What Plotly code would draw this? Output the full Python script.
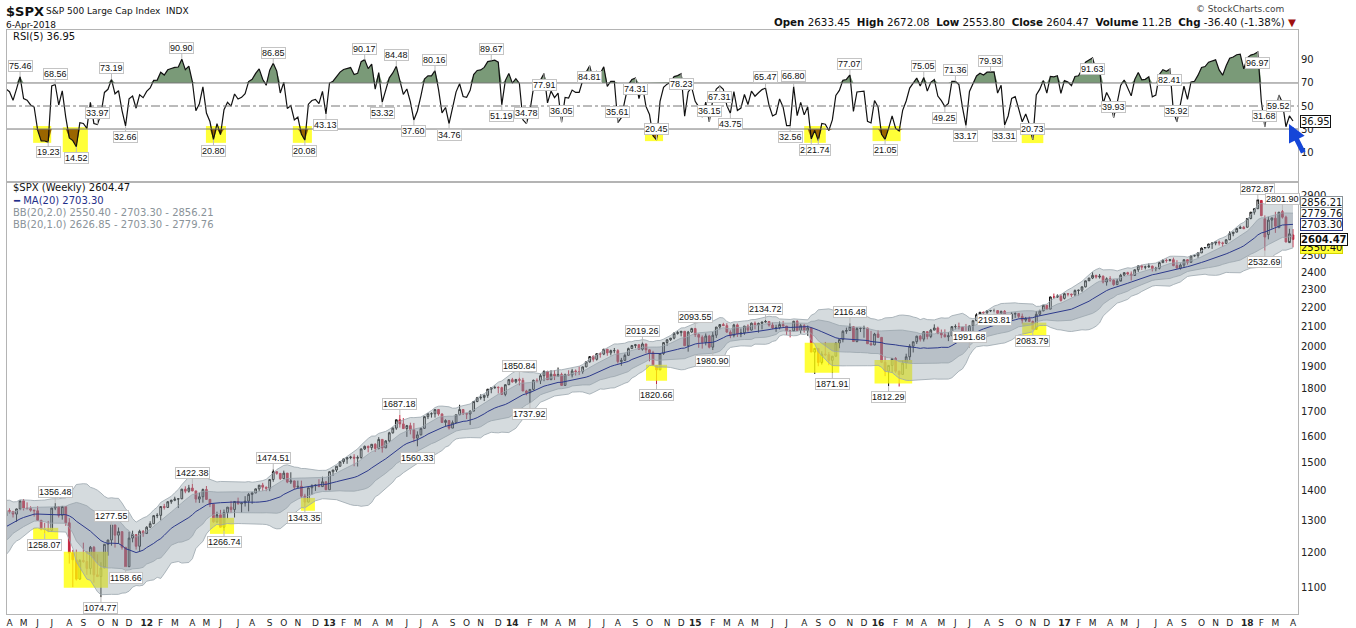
import numpy as np
import pandas as pd
import plotly.graph_objects as go
from plotly.subplots import make_subplots

# Weekly S&P 500 bars (week ending Friday)
first_week = "2010-11-19"

open_ = [
    # 2010
    1200, 1198, 1188, 1225, 1240, 1244, 1257,
    # 2011
    1258, 1272, 1293, 1283, 1276, 1311, 1329, 1343, 1320, 1321, 1304, 1279,
    1314, 1332, 1329, 1320, 1337, 1364, 1340, 1338, 1333, 1331, 1300, 1271, 1271,
    1268, 1340, 1344, 1316, 1345, 1292, 1199, 1179, 1124, 1177, 1174, 1154, 1216, 1136,
    1131, 1155, 1225, 1238, 1285, 1253, 1264, 1216, 1159, 1244, 1255, 1219, 1265,
    # 2012
    1258, 1278, 1289, 1315, 1316, 1345, 1342, 1361, 1366, 1370, 1371, 1404, 1397,
    1408, 1398, 1370, 1378, 1403, 1369, 1353, 1295, 1318, 1278, 1325, 1343, 1335,
    1362, 1354, 1357, 1363, 1386, 1391, 1405, 1418, 1411, 1407, 1438, 1466, 1460,
    1441, 1461, 1429, 1433, 1411, 1414, 1380, 1360, 1409, 1416, 1418, 1413, 1430,
    # 2013
    1402, 1466, 1472, 1486, 1503, 1513, 1518, 1520, 1516, 1518, 1551, 1561, 1556,
    1569, 1553, 1588, 1555, 1582, 1614, 1633, 1667, 1650, 1631, 1643, 1626, 1593,
    1606, 1632, 1680, 1692, 1692, 1710, 1691, 1656, 1664, 1633, 1655, 1688, 1710,
    1692, 1691, 1703, 1744, 1760, 1762, 1771, 1798, 1804, 1806, 1805, 1775, 1818,
    # 2014
    1841, 1831, 1842, 1838, 1790, 1782, 1797, 1838, 1836, 1859, 1878, 1841, 1866,
    1857, 1865, 1815, 1864, 1863, 1881, 1878, 1878, 1900, 1924, 1949, 1936, 1963,
    1961, 1985, 1967, 1978, 1978, 1925, 1931, 1955, 1988, 2003, 2007, 1985, 2011,
    1982, 1968, 1906, 1886, 1964, 2018, 2032, 2040, 2064, 2068, 2075, 2002, 2071,
    # 2015
    2089, 2058, 2045, 2019, 2051, 1995, 2055, 2097, 2110, 2104, 2071, 2053, 2108,
    2061, 2067, 2102, 2081, 2117, 2108, 2116, 2123, 2126, 2107, 2092, 2094, 2110,
    2102, 2077, 2077, 2127, 2079, 2104, 2078, 2092, 1971, 1989, 1921, 1961, 1958,
    1931, 1951, 2015, 2033, 2075, 2079, 2099, 2023, 2089, 2090, 2092, 2012, 2006,
    # 2016
    2061, 2044, 1922, 1880, 1907, 1940, 1880, 1865, 1918, 1948, 2000, 2022, 2050,
    2035, 2073, 2048, 2081, 2092, 2065, 2057, 2047, 2052, 2099, 2099, 2096, 2071,
    2037, 2103, 2130, 2162, 2175, 2173, 2183, 2184, 2184, 2169, 2180, 2128, 2139, 2165,
    2168, 2153, 2133, 2141, 2126, 2085, 2164, 2182, 2213, 2192, 2259, 2258, 2263,
    # 2017
    2251, 2277, 2275, 2271, 2295, 2297, 2316, 2351, 2367, 2383, 2373, 2378, 2344,
    2363, 2355, 2329, 2349, 2384, 2399, 2391, 2382, 2416, 2439, 2432, 2433, 2438,
    2423, 2425, 2459, 2473, 2472, 2477, 2441, 2426, 2444, 2477, 2461, 2500, 2502,
    2519, 2549, 2553, 2575, 2581, 2588, 2582, 2579, 2602, 2642, 2652, 2676, 2684,
    # 2018
    2684, 2743, 2786, 2810, 2868, 2741, 2636, 2732, 2745, 2681, 2790, 2752, 2584, 2633.45,
]

high = [
    # 2010
    1207, 1205, 1227, 1241, 1247, 1259, 1263,
    # 2011
    1278, 1294, 1296, 1302, 1312, 1331, 1344, 1343, 1332, 1326, 1303, 1315,
    1337, 1339, 1328, 1338, 1364, 1370, 1359, 1346, 1334, 1346, 1300, 1292, 1298,
    1341, 1356.48, 1344, 1347, 1345, 1307, 1208, 1209, 1181, 1230, 1204, 1220, 1220, 1195,
    1172, 1225, 1239, 1293, 1278, 1277, 1264, 1208, 1264, 1267, 1255, 1270, 1269,
    # 2012
    1281, 1297, 1316, 1323, 1346, 1354, 1363, 1368, 1378, 1373, 1405, 1414, 1419,
    1422.38, 1395, 1392, 1406, 1415, 1370, 1354, 1328, 1334, 1335, 1343, 1364, 1363,
    1375, 1357, 1380, 1391, 1395, 1406, 1418, 1426, 1413, 1438, 1474.51, 1467, 1460,
    1470, 1457, 1464, 1434, 1434, 1434, 1388, 1409, 1421, 1421, 1439, 1448, 1430,
    # 2013
    1467, 1473, 1486, 1503, 1514, 1519, 1525, 1531, 1526, 1552, 1564, 1564, 1570,
    1573, 1597, 1589, 1585, 1618, 1636, 1667, 1687.18, 1674, 1646, 1655, 1654, 1620,
    1635, 1680, 1693, 1698, 1710, 1709, 1694, 1669, 1666, 1664, 1689, 1730, 1711,
    1696, 1706, 1745, 1764, 1775, 1774, 1799, 1804, 1814, 1811, 1809, 1819, 1844,
    # 2014
    1849, 1844, 1850.84, 1849, 1795, 1798, 1841, 1847, 1867, 1884, 1882, 1884, 1884,
    1897, 1873, 1869, 1884, 1891, 1888, 1902, 1901, 1924, 1950, 1955, 1963, 1969,
    1985, 1983, 1983, 1991, 1985, 1943, 1964, 1993, 2006, 2011, 2008, 2019.26, 2008,
    1985, 1977, 1905, 1966, 2018, 2034, 2041, 2071, 2076, 2076, 2076, 2077, 2093,
    # 2015
    2093.55, 2064, 2054, 2064, 2057, 2072, 2097, 2110, 2119, 2117, 2080, 2114, 2115,
    2089, 2102, 2111, 2120, 2126, 2120, 2124, 2134.72, 2127, 2121, 2109, 2126, 2129,
    2102, 2081, 2129, 2133, 2114, 2112, 2105, 2096, 1990, 1988, 1975, 2021, 1971,
    1952, 2020, 2034, 2080, 2094, 2116.48, 2101, 2097, 2094, 2104, 2093, 2077, 2067,
    # 2016
    2081, 2038, 1950, 1908, 1940, 1947, 1882, 1930, 1963, 2010, 2022, 2052, 2056,
    2075, 2074, 2087, 2111, 2099, 2084, 2085, 2071, 2100, 2111, 2120, 2096, 2113,
    2104, 2131, 2169, 2176, 2178, 2183, 2188, 2193.81, 2187, 2183, 2187, 2163, 2176, 2175,
    2170, 2168, 2150, 2152, 2131, 2182, 2189, 2214, 2214, 2260, 2278, 2273, 2273,
    # 2017
    2282, 2280, 2277, 2301, 2300, 2319, 2352, 2368, 2401, 2386, 2391, 2382, 2371,
    2378, 2360, 2362, 2392, 2399, 2404, 2406, 2418, 2441, 2446, 2441, 2454, 2441,
    2434, 2463, 2479, 2484, 2480, 2490, 2474, 2454, 2477, 2471, 2500, 2508, 2520,
    2553, 2555, 2576, 2582, 2588, 2597, 2590, 2605, 2657, 2652, 2680, 2695, 2693,
    # 2018
    2744, 2787, 2811, 2872.87, 2870, 2764, 2755, 2747, 2789, 2787, 2801.90, 2762, 2674, 2672.08,
]

low = [
    # 2010
    1173, 1177, 1174, 1220, 1232, 1239, 1254,
    # 2011
    1258, 1268, 1276, 1275, 1276, 1310, 1324, 1294, 1303, 1291, 1249, 1279,
    1313, 1322, 1309, 1295, 1333, 1332, 1336, 1328, 1312, 1298, 1268, 1258.07, 1262,
    1263, 1333, 1309, 1302, 1282, 1168, 1102, 1120, 1122, 1170, 1136, 1137, 1114, 1131,
    1074.77, 1160, 1191, 1221, 1215, 1226, 1209, 1158.66, 1158, 1231, 1209, 1202, 1248,
    # 2012
    1259, 1275, 1290, 1307, 1300, 1335, 1340, 1354, 1363, 1340, 1370, 1390, 1392,
    1397, 1358, 1357, 1358, 1367, 1343, 1292, 1291, 1277, 1266.74, 1306, 1324, 1309,
    1352, 1325, 1345, 1329, 1354, 1390, 1397, 1398, 1397, 1397, 1430, 1455, 1436,
    1440, 1425, 1422, 1403, 1406, 1373, 1343.35, 1359, 1385, 1398, 1411, 1416, 1401,
    # 2013
    1402, 1451, 1465, 1485, 1495, 1495, 1512, 1486, 1485, 1514, 1547, 1538, 1546,
    1540, 1549, 1537, 1555, 1576, 1611, 1626, 1635, 1630, 1598, 1608, 1577, 1560.33,
    1604, 1630, 1670, 1676, 1676, 1684, 1654, 1639, 1627, 1633, 1656, 1686, 1687,
    1670, 1646, 1703, 1741, 1752, 1746, 1760, 1780, 1800, 1779, 1773, 1767, 1818,
    # 2014
    1827, 1824, 1815, 1790, 1771, 1737.92, 1792, 1828, 1821, 1834, 1839, 1839, 1839,
    1858, 1814, 1816, 1860, 1851, 1860, 1862, 1868, 1900, 1920, 1925, 1930, 1944,
    1956, 1953, 1955, 1965, 1916, 1905, 1928, 1955, 1988, 1990, 1983, 1978, 1965,
    1926, 1905, 1820.66, 1886, 1957, 2002, 2026, 2034, 2058, 2049, 2002, 1973, 2067,
    # 2015
    2046, 1992, 1988, 2004, 1989, 1980.90, 2041, 2085, 2103, 2067, 2040, 2044, 2046,
    2045, 2057, 2072, 2079, 2085, 2068, 2085, 2120, 2099, 2085, 2072, 2085, 2100,
    2056, 2044, 2076, 2077, 2063, 2068, 2052, 1971, 1867, 1903, 1911, 1952, 1908,
    1871.91, 1949, 1990, 2019, 2062, 2077, 2022, 2019, 2071, 2042, 2012, 2005, 2005,
    # 2016
    2043, 1918, 1857, 1812.29, 1872, 1872, 1810, 1866, 1891, 1932, 1969, 2011, 2023,
    2023, 2034, 2040, 2081, 2060, 2040, 2044, 2025, 2052, 2085, 2085, 2050, 2032,
    1991.68, 2074, 2131, 2155, 2156, 2148, 2176, 2175, 2159, 2158, 2127, 2120, 2132, 2145,
    2143, 2115, 2124, 2123, 2083.79, 2098, 2156, 2186, 2187, 2192, 2248, 2253, 2233,
    # 2017
    2245, 2262, 2258, 2263, 2268, 2287, 2313, 2355, 2361, 2364, 2364, 2336, 2323,
    2345, 2322, 2328, 2355, 2380, 2385, 2353, 2380, 2403, 2415, 2418, 2428, 2406,
    2407, 2418, 2457, 2459, 2466, 2437, 2424, 2417, 2428, 2447, 2464, 2496, 2488,
    2520, 2544, 2547, 2544, 2567, 2566, 2557, 2577, 2605, 2625, 2651, 2675, 2673,
    # 2018
    2683, 2737, 2769, 2809, 2759, 2532.69, 2605, 2675, 2647, 2681, 2742, 2586, 2594, 2553.80,
]

close = [
    # 2010
    1199, 1189, 1225, 1240, 1244, 1257, 1258,
    # 2011
    1272, 1293, 1283, 1276, 1311, 1329, 1343, 1320, 1321, 1304, 1279, 1314,
    1332, 1329, 1320, 1337, 1364, 1340, 1338, 1333, 1331, 1300, 1271, 1271, 1268,
    1340, 1344, 1316, 1345, 1292, 1199, 1179, 1124, 1177, 1174, 1154, 1216, 1136, 1131,
    1155, 1225, 1238, 1285, 1253, 1264, 1216, 1159, 1244, 1255, 1219, 1265, 1258,
    # 2012
    1278, 1289, 1315, 1316, 1345, 1342, 1361, 1366, 1370, 1371, 1404, 1397, 1408,
    1398, 1370, 1378, 1403, 1369, 1353, 1295, 1318, 1278, 1325, 1343, 1335, 1362,
    1354, 1357, 1363, 1386, 1391, 1405, 1418, 1411, 1407, 1438, 1466, 1460, 1441,
    1461, 1429, 1433, 1411, 1414, 1380, 1360, 1409, 1416, 1418, 1413, 1430, 1402,
    # 2013
    1466, 1472, 1486, 1503, 1513, 1518, 1520, 1516, 1518, 1551, 1561, 1556, 1569,
    1553, 1588, 1555, 1582, 1614, 1633, 1667, 1650, 1631, 1643, 1626, 1593, 1606,
    1632, 1680, 1692, 1692, 1710, 1691, 1656, 1664, 1633, 1655, 1688, 1710, 1692,
    1691, 1703, 1744, 1760, 1762, 1771, 1798, 1804, 1806, 1805, 1775, 1818, 1841,
    # 2014
    1831, 1842, 1838, 1790, 1782, 1797, 1838, 1836, 1859, 1878, 1841, 1866, 1857,
    1865, 1815, 1864, 1863, 1881, 1878, 1878, 1900, 1924, 1949, 1936, 1963, 1961,
    1985, 1967, 1978, 1978, 1925, 1931, 1955, 1988, 2003, 2007, 1985, 2011, 1982,
    1968, 1906, 1886, 1964, 2018, 2032, 2040, 2064, 2068, 2075, 2002, 2071, 2089,
    # 2015
    2058, 2045, 2019, 2051, 1995, 2055, 2097, 2110, 2104, 2071, 2053, 2108, 2061,
    2067, 2102, 2081, 2117, 2108, 2116, 2123, 2126, 2107, 2092, 2094, 2110, 2102,
    2077, 2077, 2127, 2079, 2104, 2078, 2092, 1971, 1989, 1921, 1961, 1958, 1931,
    1951, 2015, 2033, 2075, 2079, 2099, 2023, 2089, 2090, 2092, 2012, 2006, 2061,
    # 2016
    2044, 1922, 1880, 1907, 1940, 1880, 1865, 1918, 1948, 2000, 2022, 2050, 2035,
    2073, 2048, 2081, 2092, 2065, 2057, 2047, 2052, 2099, 2099, 2096, 2071, 2037,
    2103, 2130, 2162, 2175, 2173, 2183, 2184, 2184, 2169, 2180, 2128, 2139, 2165, 2168,
    2153, 2133, 2141, 2126, 2085, 2164, 2182, 2213, 2192, 2259, 2258, 2263, 2239,
    # 2017
    2277, 2275, 2271, 2295, 2297, 2316, 2351, 2367, 2383, 2373, 2378, 2344, 2363,
    2355, 2329, 2349, 2384, 2399, 2391, 2382, 2416, 2439, 2432, 2433, 2438, 2423,
    2425, 2459, 2473, 2472, 2477, 2441, 2426, 2444, 2477, 2461, 2500, 2502, 2519,
    2549, 2553, 2575, 2581, 2588, 2582, 2579, 2602, 2642, 2652, 2676, 2684, 2674,
    # 2018
    2743, 2786, 2810, 2873, 2762, 2620, 2732, 2747, 2691, 2786, 2752, 2588, 2640.87, 2604.47,
]

# Values printed in the header and legends
last_volume = "11.2B"
ma20_last = 2703.30
bb2_last = (2550.40, 2856.21)
bb1_last = (2626.85, 2779.76)
rsi_last = 36.95

# RSI(5) swing labels (a = above the line, b = below)
rsi_label_weeks = [
    "2011-04-29", "2011-06-24", "2011-07-08", "2011-08-19", "2011-09-30", "2011-10-28",
    "2011-11-25", "2012-03-16", "2012-05-18", "2012-09-14", "2012-11-16", "2012-12-28",
    "2013-03-15", "2013-04-19", "2013-05-17", "2013-06-21", "2013-08-02", "2013-08-30",
    "2013-11-22", "2013-12-13", "2014-01-31", "2014-03-07", "2014-04-11", "2014-06-06",
    "2014-08-01", "2014-09-05", "2014-10-17", "2014-12-05", "2015-01-30", "2015-02-20",
    "2015-03-13", "2015-05-22", "2015-07-10", "2015-07-17", "2015-08-21", "2015-09-04",
    "2015-11-06", "2016-01-15", "2016-04-01", "2016-05-13", "2016-06-03", "2016-06-24",
    "2016-08-12", "2016-09-09", "2016-11-04", "2017-03-03", "2017-04-14", "2017-08-04",
    "2017-08-18", "2018-01-26", "2018-02-09", "2018-03-09",
]
rsi_label_values = [
    75.46, 19.23, 68.56, 14.52, 33.97, 73.19,
    32.66, 90.90, 20.80, 86.85, 20.08, 43.13,
    90.17, 53.32, 84.48, 37.60, 80.16, 34.76,
    89.67, 51.19, 34.78, 77.91, 36.05, 84.81,
    35.61, 74.31, 20.45, 78.23, 36.15, 67.31,
    43.75, 65.47, 32.56, 66.80, 21.23, 21.74,
    77.07, 21.05, 75.05, 49.25, 71.36, 33.17,
    79.93, 33.31, 20.73, 91.63, 39.93, 82.41,
    35.92, 96.97, 31.68, 59.52,
]
rsi_label_side = "ababaabababbabababababababababbababbabababababababab"

# Price swing labels
price_label_weeks = [
    "2011-06-17", "2011-07-08", "2011-10-07", "2011-10-28", "2011-11-25", "2012-04-06",
    "2012-06-08", "2012-09-14", "2012-11-16", "2013-05-24", "2013-06-28", "2014-01-17",
    "2014-02-07", "2014-09-19", "2014-10-17", "2015-01-02", "2015-02-06", "2015-05-22",
    "2015-10-02", "2015-11-06", "2016-01-22", "2016-07-01", "2016-08-19", "2016-11-04",
    "2018-01-26", "2018-02-09", "2018-03-16",
]
price_label_values = [
    1258.07, 1356.48, 1074.77, 1277.55, 1158.66, 1422.38,
    1266.74, 1474.51, 1343.35, 1687.18, 1560.33, 1850.84,
    1737.92, 2019.26, 1820.66, 2093.55, 1980.90, 2134.72,
    1871.91, 2116.48, 1812.29, 1991.68, 2193.81, 2083.79,
    2872.87, 2532.69, 2801.90,
]
price_label_side = "babababababababababababbaba"

# Yellow highlight zones marked on the chart
rsi_zone_start = ["2011-05-25", "2011-07-23", "2012-05-03", "2012-10-23",
                  "2014-09-24", "2015-08-07", "2015-12-21", "2016-10-13"]
rsi_zone_end = ["2011-06-30", "2011-09-11", "2012-06-12", "2012-11-30",
                "2014-10-30", "2015-09-19", "2016-02-15", "2016-11-25"]
rsi_zone_lo = [18, 10, 18, 18, 19.5, 18, 19.5, 17.8]
rsi_zone_hi = [32.6, 31.6, 32.6, 32.6, 34.3, 32.6, 32.6, 30.9]

price_zone_start = ["2011-05-25", "2011-07-25", "2012-05-11", "2012-11-08",
                    "2014-09-26", "2015-08-08", "2015-12-25", "2016-10-14"]
price_zone_end = ["2011-07-14", "2011-10-21", "2012-06-28", "2012-12-06",
                  "2014-11-07", "2015-10-16", "2016-03-09", "2016-12-01"]
price_zone_lo = [1230, 1100, 1257, 1331, 1836, 1873, 1823, 2027]
price_zone_hi = [1276, 1203, 1308, 1374, 1910, 2017, 1933, 2120]

# price axis labels (2600-2800 sit behind the value tags)
price_ticks = [1100, 1200, 1300, 1400, 1500, 1600, 1700, 1800, 1900, 2000,
               2100, 2200, 2300, 2400, 2500, 2900]

# ---- indicators ----
dates = pd.date_range(first_week, periods=len(close), freq="W-FRI")
s = pd.Series(close, index=dates, dtype=float)
ma = s.rolling(20).mean()
sd = s.rolling(20).std(ddof=0)
up2, lo2 = ma + 2 * sd, ma - 2 * sd
up1, lo1 = ma + sd, ma - sd

delta = s.diff()
gain = delta.clip(lower=0).ewm(alpha=1 / 5, adjust=False).mean()
loss = (-delta.clip(upper=0)).ewm(alpha=1 / 5, adjust=False).mean()
rsi = (100 - 100 / (1 + gain / loss)).fillna(50)

x_start, x_end = "2011-04-03", "2018-04-16"

# pixel helpers for text placed around the plot area
L, R, T, B = 7, 58, 30, 14
W, H = 1356, 628
PW, PH = W - L - R, H - T - B


def px(x):
    return (x - L) / PW


def py(y):
    return (H - B - y) / PH


fig = make_subplots(rows=2, cols=1, shared_xaxes=True, vertical_spacing=0,
                    row_heights=[152, 432])

# ---- RSI panel ----
for a, b, lo, hi in zip(rsi_zone_start, rsi_zone_end, rsi_zone_lo, rsi_zone_hi):
    fig.add_trace(go.Scatter(x=[a, b, b, a, a], y=[lo, lo, hi, hi, lo], mode="lines",
                             fill="toself", fillcolor="rgba(255,255,0,0.78)",
                             line=dict(width=0), hoverinfo="skip", showlegend=False),
                  row=1, col=1)

fig.add_trace(go.Scatter(x=dates, y=[70] * len(dates), mode="lines", line=dict(width=0),
                         hoverinfo="skip", showlegend=False), row=1, col=1)
fig.add_trace(go.Scatter(x=dates, y=np.maximum(rsi, 70), mode="lines", line=dict(width=0),
                         fill="tonexty", fillcolor="#7a9a78", hoverinfo="skip",
                         showlegend=False), row=1, col=1)
fig.add_trace(go.Scatter(x=dates, y=[30] * len(dates), mode="lines", line=dict(width=0),
                         hoverinfo="skip", showlegend=False), row=1, col=1)
fig.add_trace(go.Scatter(x=dates, y=np.minimum(rsi, 30), mode="lines", line=dict(width=0),
                         fill="tonexty", fillcolor="#9a6500", hoverinfo="skip",
                         showlegend=False), row=1, col=1)

fig.add_hline(y=70, line=dict(color="#777777", width=1), row=1, col=1)
fig.add_hline(y=30, line=dict(color="#777777", width=1), row=1, col=1)
fig.add_hline(y=50, line=dict(color="#777777", width=1, dash="dashdot"), row=1, col=1)

fig.add_trace(go.Scatter(x=dates, y=rsi, mode="lines", line=dict(color="#111111", width=1.2),
                         hoverinfo="skip", showlegend=False), row=1, col=1)

# ---- price panel ----
for a, b, lo, hi in zip(price_zone_start, price_zone_end, price_zone_lo, price_zone_hi):
    fig.add_trace(go.Scatter(x=[a, b, b, a, a], y=[lo, lo, hi, hi, lo], mode="lines",
                             fill="toself", fillcolor="rgba(255,255,0,0.78)",
                             line=dict(width=0), hoverinfo="skip", showlegend=False),
                  row=2, col=1)

band_line = dict(color="#9aa6ad", width=0.8)
fig.add_trace(go.Scatter(x=dates, y=lo2, mode="lines", line=band_line,
                         hoverinfo="skip", showlegend=False), row=2, col=1)
fig.add_trace(go.Scatter(x=dates, y=up2, mode="lines", line=band_line, fill="tonexty",
                         fillcolor="rgba(150,165,172,0.40)", hoverinfo="skip",
                         showlegend=False), row=2, col=1)
fig.add_trace(go.Scatter(x=dates, y=lo1, mode="lines", line=band_line,
                         hoverinfo="skip", showlegend=False), row=2, col=1)
fig.add_trace(go.Scatter(x=dates, y=up1, mode="lines", line=band_line, fill="tonexty",
                         fillcolor="rgba(110,122,140,0.28)", hoverinfo="skip",
                         showlegend=False), row=2, col=1)
fig.add_trace(go.Scatter(x=dates, y=ma, mode="lines", line=dict(color="#2d3a8c", width=1),
                         hoverinfo="skip", showlegend=False), row=2, col=1)

fig.add_trace(go.Candlestick(
    x=dates, open=open_, high=high, low=low, close=close,
    increasing=dict(line=dict(color="#111111", width=1), fillcolor="white"),
    decreasing=dict(line=dict(color="#c3263f", width=1), fillcolor="#c3263f"),
    whiskerwidth=0, hoverinfo="skip", showlegend=False), row=2, col=1)

# ---- swing labels ----
label_font = dict(family="Liberation Sans", size=9, color="#111111")
for d, v, side in zip(rsi_label_weeks, rsi_label_values, rsi_label_side):
    fig.add_annotation(x=d, y=v, xref="x", yref="y", text=f"{v:.2f}", showarrow=True,
                       ax=0, ay=-11 if side == "a" else 11, arrowhead=0, arrowwidth=1,
                       arrowcolor="#bbbbbb", bgcolor="white", bordercolor="#c4c4c4",
                       borderwidth=1, borderpad=0, font=label_font)

for d, v, side in zip(price_label_weeks, price_label_values, price_label_side):
    fig.add_annotation(x=d, y=np.log10(v), xref="x2", yref="y2", text=f"{v:.2f}",
                       showarrow=True, ax=0, ay=-11 if side == "a" else 11, arrowhead=0,
                       arrowwidth=1, arrowcolor="#bbbbbb", bgcolor="white",
                       bordercolor="#c4c4c4", borderwidth=1, borderpad=0, font=label_font)

# ---- right-axis value tags ----
tag_font = dict(family="DejaVu Sans", size=10, color="#111111")
tags = [
    (bb2_last[1], "#8a9399", "white", False),
    (bb1_last[1], "#8a9399", "white", False),
    (ma20_last, "#2d3a8c", "white", False),
    (bb2_last[0], "#d4d400", "#ffff33", False),
    (close[-1], "#111111", "white", True),
]
for v, border, bg, bold in tags:
    txt = f"<b>{v:.2f}</b>" if bold else f"{v:.2f}"
    fig.add_annotation(x=px(1300), y=np.log10(v), xref="paper", yref="y2", text=txt,
                       showarrow=False, xanchor="left", yanchor="middle", bgcolor=bg,
                       bordercolor=border, borderwidth=1, borderpad=0, font=tag_font)

fig.add_annotation(x=px(1300), y=rsi_last, xref="paper", yref="y", text=f"{rsi_last:.2f}",
                   showarrow=False, xanchor="left", yanchor="middle", bgcolor="white",
                   bordercolor="#111111", borderwidth=1, borderpad=0, font=tag_font)

# blue pointer arrow drawn on the chart
fig.add_annotation(x=px(1289), y=py(124), xref="paper", yref="paper", text="",
                   showarrow=True, ax=15, ay=30, arrowhead=2, arrowsize=0.7,
                   arrowwidth=5, arrowcolor="#1546d8")

# ---- legends ----
leg_font = dict(family="DejaVu Sans", size=10)
fig.add_annotation(x=px(11), y=py(36), xref="paper", yref="paper",
                   text=f"RSI(5) {rsi_last:.2f}", showarrow=False, xanchor="left",
                   yanchor="middle", font=dict(leg_font, color="#111111"))
legend_lines = [
    (f"$SPX (Weekly) {close[-1]:.2f}", "#111111"),
    (f"━ MA(20) {ma20_last:.2f}", "#1f2f8a"),
    (f"BB(20,2.0) {bb2_last[0]:.2f} - {ma20_last:.2f} - {bb2_last[1]:.2f}", "#8a9399"),
    (f"BB(20,1.0) {bb1_last[0]:.2f} - {ma20_last:.2f} - {bb1_last[1]:.2f}", "#8a9399"),
]
for i, (txt, col) in enumerate(legend_lines):
    fig.add_annotation(x=px(11), y=py(188 + 12 * i), xref="paper", yref="paper", text=txt,
                       showarrow=False, xanchor="left", yanchor="middle",
                       font=dict(leg_font, color=col))

# ---- header ----
last = dates[-1]
chg = close[-1] - close[-2]
fig.add_annotation(x=px(4), y=py(11), xref="paper", yref="paper", text="<b>$SPX</b>",
                   showarrow=False, xanchor="left", yanchor="middle",
                   font=dict(family="DejaVu Sans", size=13, color="#111111"))
fig.add_annotation(x=px(44), y=py(11), xref="paper", yref="paper",
                   text="S&P 500 Large Cap Index  INDX", showarrow=False, xanchor="left",
                   yanchor="middle", font=dict(family="DejaVu Sans", size=9, color="#111111"))
fig.add_annotation(x=px(4), y=py(25), xref="paper", yref="paper",
                   text=f"{last.day}-{last:%b}-{last.year}", showarrow=False,
                   xanchor="left", yanchor="middle",
                   font=dict(family="DejaVu Sans", size=9, color="#111111"))
fig.add_annotation(x=px(1286), y=py(9), xref="paper", yref="paper",
                   text="© StockCharts.com", showarrow=False, xanchor="right",
                   yanchor="middle", font=dict(family="DejaVu Sans", size=9, color="#444444"))
stats = (f"<b>Open</b> {open_[-1]:.2f}  <b>High</b> {high[-1]:.2f}  <b>Low</b> {low[-1]:.2f}  "
         f"<b>Close</b> {close[-1]:.2f}  <b>Volume</b> {last_volume}  "
         f"<b>Chg</b> {chg:.2f} ({chg / close[-2] * 100:.2f}%) "
         f"<span style='color:#a01010'>▼</span>")
fig.add_annotation(x=px(1298), y=py(22), xref="paper", yref="paper", text=stats,
                   showarrow=False, xanchor="right", yanchor="middle",
                   font=dict(family="DejaVu Sans", size=10.3, color="#111111"))

# ---- axes ----
vis = dates[(dates >= x_start) & (dates <= x_end)]
tickvals, ticktext, seen = [], [], set()
for d in vis:
    if (d.year, d.month) in seen:
        continue
    seen.add((d.year, d.month))
    tickvals.append(d)
    ticktext.append(f"<b>{d.year % 100:02d}</b>" if d.month == 1 else "JFMAMJJASOND"[d.month - 1])

frame = dict(showline=True, linecolor="#b4b4b4", linewidth=1, mirror=True, showgrid=False,
             zeroline=False, automargin=False)
fig.update_xaxes(range=[x_start, x_end], ticks="", **frame)
fig.update_xaxes(showticklabels=False, row=1, col=1)
fig.update_xaxes(tickvals=tickvals, ticktext=ticktext, tickangle=0, rangeslider_visible=False,
                 tickfont=dict(family="DejaVu Sans", size=9, color="#222222"), row=2, col=1)
fig.update_yaxes(side="right", ticks="", tickfont=dict(family="DejaVu Sans", size=10,
                                                       color="#222222"), **frame)
fig.update_yaxes(range=[-16, 116], tickvals=[10, 30, 50, 70, 90], row=1, col=1)
fig.update_yaxes(type="log", range=[np.log10(1031), np.log10(3002)],
                 tickvals=price_ticks, row=2, col=1)

fig.update_layout(width=W, height=H, margin=dict(l=L, r=R, t=T, b=B, autoexpand=False),
                  paper_bgcolor="white", plot_bgcolor="white", hovermode=False,
                  font=dict(family="DejaVu Sans", color="#111111"))

# the page's default body margin would push the chart off the window
fig.write_html("out.html", config={"displayModeBar": False},
               post_script="document.body.style.margin = '0px';")
